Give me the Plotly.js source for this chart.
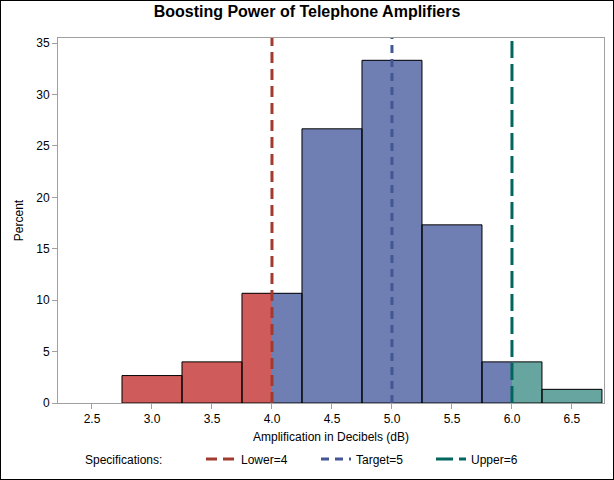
<!DOCTYPE html>
<html>
<head>
<meta charset="utf-8">
<script src="https://cdn.plot.ly/plotly-3.0.1.min.js"></script>
<style>
html,body{margin:0;padding:0;background:#fff;}
#chart{width:614px;height:480px;box-sizing:border-box;border:1px solid #000;}
</style>
</head>
<body>
<div id="chart"></div>
<script>
// Data
const binCenters = [3.0, 3.5, 4.0, 4.5, 5.0, 5.5, 6.0, 6.5];
const percents   = [2.67, 4.0, 10.67, 26.67, 33.33, 17.33, 4.0, 1.33];
const binWidth = 0.5;
const lowerSpec = 4, targetSpec = 5, upperSpec = 6;
const xTickVals = [2.5, 3.0, 3.5, 4.0, 4.5, 5.0, 5.5, 6.0, 6.5];
const xTickText = ['2.5','3.0','3.5','4.0','4.5','5.0','5.5','6.0','6.5'];

const FONT = 'Liberation Sans, Arial, sans-serif';
const colors = {below:'#D05B5B', within:'#6F7EB3', above:'#66A5A0'};

// split each bin at the specification limits
const parts = {below:{x:[],w:[],y:[]}, within:{x:[],w:[],y:[]}, above:{x:[],w:[],y:[]}};
function addPart(key, a, b, y){
  if (b - a <= 1e-9) return;
  parts[key].x.push((a+b)/2); parts[key].w.push(b-a); parts[key].y.push(y);
}
binCenters.forEach((c,i)=>{
  const lo = c - binWidth/2, hi = c + binWidth/2, y = percents[i];
  addPart('below', lo, Math.min(hi, lowerSpec), y);
  addPart('within', Math.max(lo, lowerSpec), Math.min(hi, upperSpec), y);
  addPart('above', Math.max(lo, upperSpec), hi, y);
});

const traces = [];
['below','within','above'].forEach(k=>{
  traces.push({type:'bar', x:parts[k].x, y:parts[k].y, width:parts[k].w,
    marker:{color:colors[k], line:{width:0}}, showlegend:false, hoverinfo:'skip'});
});
traces.push({type:'bar', x:binCenters, y:percents, width:binCenters.map(()=>binWidth),
  marker:{color:'rgba(0,0,0,0)', line:{color:'#000', width:1}}, showlegend:false, hoverinfo:'skip'});

const yTop = 35.5;
traces.push({type:'scatter', mode:'lines', x:[lowerSpec,lowerSpec], y:[0,yTop], name:'Lower=4',
  line:{color:'#A23B2F', width:3, dash:'11px,6px'}});
traces.push({type:'scatter', mode:'lines', x:[targetSpec,targetSpec], y:[0,yTop], name:'Target=5',
  line:{color:'#445694', width:3, dash:'8px,6px'}});
traces.push({type:'scatter', mode:'lines', x:[upperSpec,upperSpec], y:[0,yTop], name:'Upper=6',
  line:{color:'#01665E', width:3, dash:'17px,6px'}});

const axisCommon = {
  showline:true, linecolor:'#A0A0A0', linewidth:1, mirror:true,
  ticks:'outside', ticklen:5, tickcolor:'#A0A0A0', tickwidth:1,
  showgrid:false, zeroline:false, automargin:false,
  tickfont:{family:FONT, size:12, color:'#000'}
};

const legY = 1 - 458/478;

const layout = {
  width:612, height:478,
  margin:{l:57, r:9, t:37, b:76},
  paper_bgcolor:'#fff', plot_bgcolor:'#fff',
  barmode:'overlay', bargap:0,
  font:{family:FONT, size:12, color:'#000'},
  title:{text:'<b>Boosting Power of Telephone Amplifiers</b>', font:{family:FONT, size:16, color:'#000'},
    x:0.5, xanchor:'center', y:1-10/478, yref:'container', yanchor:'middle'},
  xaxis:Object.assign({}, axisCommon, {range:[2.2167, 6.767], tickvals:xTickVals, ticktext:xTickText,
    title:{text:'Amplification in Decibels (dB)', font:{family:FONT, size:12, color:'#000'}, standoff:8}}),
  yaxis:Object.assign({}, axisCommon, {range:[0, yTop], dtick:5, tick0:0,
    title:{text:'Percent', font:{family:FONT, size:12, color:'#000'}, standoff:10}}),
  showlegend:true,
  legend:{orientation:'h', xref:'container', x:200/612, xanchor:'left', yref:'container', y:legY, yanchor:'middle',
    font:{family:FONT, size:12, color:'#000'}, entrywidth:70, entrywidthmode:'pixels',
    bgcolor:'rgba(0,0,0,0)', borderwidth:0, itemwidth:30, tracegroupgap:0},
  annotations:[{text:'Specifications:', xref:'paper', yref:'paper', x:(83-58)/546, xanchor:'left',
    y:(402-459)/365, yanchor:'middle', showarrow:false, font:{family:FONT, size:12, color:'#000'}}]
};

Plotly.newPlot('chart', traces, layout, {displayModeBar:false, staticPlot:true});
</script>
</body>
</html>
